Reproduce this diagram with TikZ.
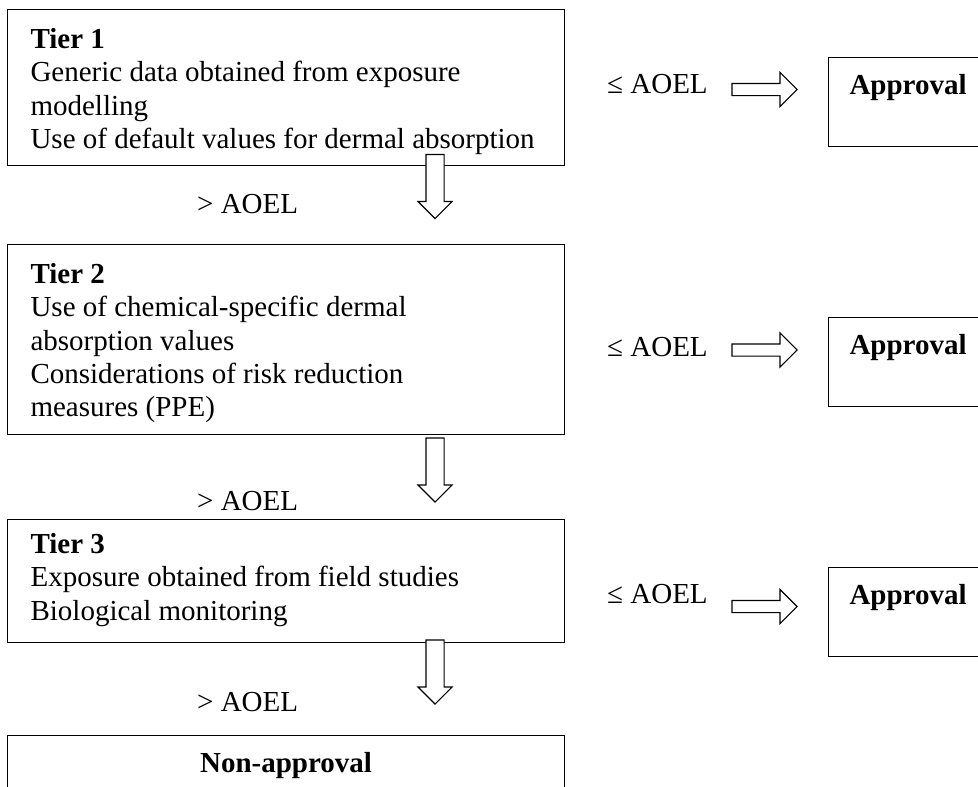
\documentclass[tikz,border=0pt]{standalone}
\usepackage{fontspec}
\setmainfont{Liberation Serif}
\usetikzlibrary{shapes.arrows}

\tikzstyle{tier} = [draw, line width=1.1pt, anchor=north west, text width=511pt, inner xsep=23pt, inner ysep=0pt, align=flush left]
\tikzstyle{result} = [draw, line width=1.1pt, anchor=north west, text width=170pt, inner xsep=21pt, inner ysep=0pt, align=flush left, text height=37pt, text depth=52pt]
\tikzstyle{darrow} = [single arrow, draw, fill=white, line width=1.1pt, rotate=-90, inner xsep=0pt, inner ysep=8.5pt, single arrow head extend=8pt, minimum height=64pt]
\tikzstyle{rarrow} = [single arrow, draw, fill=white, line width=1.1pt, inner xsep=0pt, inner ysep=5.5pt, single arrow head extend=11pt, minimum height=65pt]
\tikzstyle{lbl} = [anchor=base west, inner sep=0pt]

\begin{document}
\begin{tikzpicture}[x=1pt, y=-1pt, every node/.style={font=\fontsize{29}{33.3}\selectfont}]
\useasboundingbox (0,0) rectangle (978,787);
\clip (0,0) rectangle (978,787);
\fill[white] (0,0) rectangle (978,787);
% tiers
\node[tier, text height=39pt, text depth=117pt] (T1) at (7,9) {\textbf{Tier 1}\\Generic data obtained from exposure\\modelling\\Use of default values for dermal absorption};
\node[tier, text height=39pt, text depth=151pt] (T2) at (7,244) {\textbf{Tier 2}\\Use of chemical-specific dermal\\absorption values\\Considerations of risk reduction\\measures (PPE)};
\node[tier, text height=34pt, text depth=89pt] (T3) at (7,519) {\textbf{Tier 3}\\Exposure obtained from field studies\\Biological monitoring};
\node[tier, align=center, text height=37pt, text depth=40pt] (NA) at (7,735) {\textbf{Non-approval}};
% approval boxes
\node[result] (A1) at (828,57) {\textbf{Approval}};
\node[result] (A2) at (828,317) {\textbf{Approval}};
\node[result] (A3) at (828,567) {\textbf{Approval}};
% labels
\node[lbl] (le1) at (607,93) {≤ AOEL};
\node[lbl] (le2) at (607,356) {≤ AOEL};
\node[lbl] (le3) at (607,603) {≤ AOEL};
\node[lbl] (gt1) at (197,213) {> AOEL};
\node[lbl] (gt2) at (197,510) {> AOEL};
\node[lbl] (gt3) at (197,711) {> AOEL};
% block arrows
\node[darrow] (d1) at (435,182) {};
\node[darrow] (d2) at (435,465.5) {};
\node[darrow] (d3) at (435,667.5) {};
\node[rarrow] (r1) at (761.5,89.5) {};
\node[rarrow] (r2) at (761.5,350) {};
\node[rarrow] (r3) at (761.5,606.5) {};
\end{tikzpicture}
\end{document}
